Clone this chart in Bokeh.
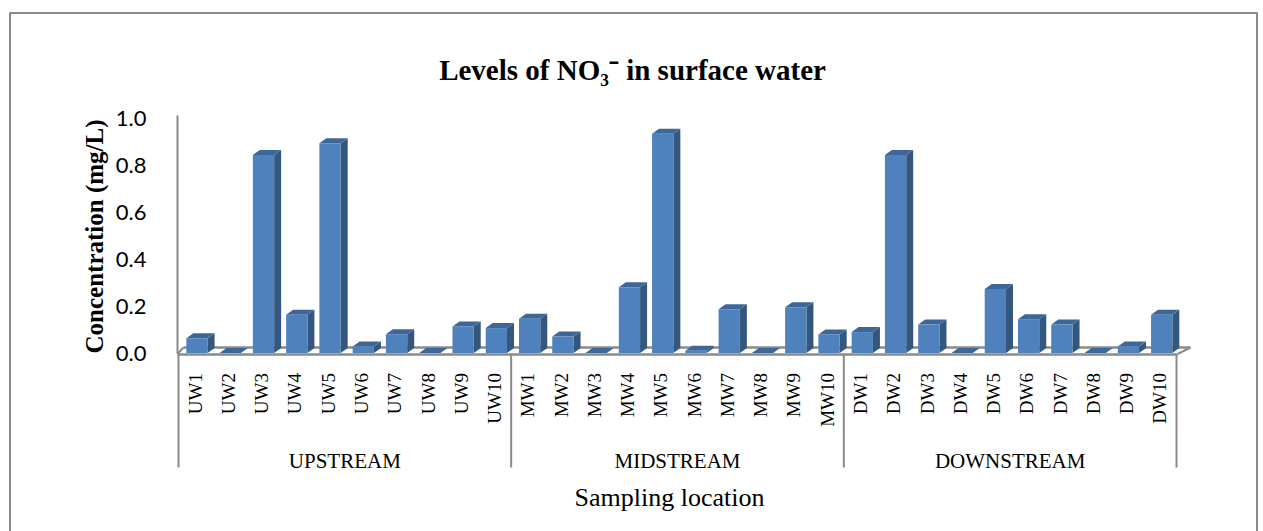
import math

from bokeh.plotting import figure
from bokeh.models import (Range1d, LinearAxis, FixedTicker, NumeralTickFormatter, Label)
from bokeh.embed import file_html
from bokeh.resources import INLINE

# ---- data -------------------------------------------------------------
groups = ["UPSTREAM", "MIDSTREAM", "DOWNSTREAM"]
upstream_sites = ["UW1", "UW2", "UW3", "UW4", "UW5", "UW6", "UW7", "UW8", "UW9", "UW10"]
midstream_sites = ["MW1", "MW2", "MW3", "MW4", "MW5", "MW6", "MW7", "MW8", "MW9", "MW10"]
downstream_sites = ["DW1", "DW2", "DW3", "DW4", "DW5", "DW6", "DW7", "DW8", "DW9", "DW10"]

upstream_no3 = [0.063, 0.0, 0.843, 0.163, 0.893, 0.028, 0.080, 0.0, 0.113, 0.106]
midstream_no3 = [0.146, 0.070, 0.0, 0.280, 0.933, 0.010, 0.186, 0.0, 0.195, 0.079]
downstream_no3 = [0.089, 0.843, 0.121, 0.0, 0.272, 0.144, 0.121, 0.0, 0.028, 0.163]

y_ticks = [0.0, 0.2, 0.4, 0.6, 0.8, 1.0]

sites = upstream_sites + midstream_sites + downstream_sites
values = upstream_no3 + midstream_no3 + downstream_no3

# ---- canvas geometry (pixels) ------------------------------------------
W, H = 1263, 531
X0 = 178.0                    # left edge of the category axis
CAT = (1176.0 - X0) / 30      # width of one category
Y0 = 352.5                    # value 0
UNIT = 235.0                  # pixels per 1 mg/L


def xd(px):
    return (px - X0) / CAT


def yd(py):
    return (Y0 - py) / UNIT


p = figure(width=W, height=H, output_backend="svg", toolbar_location=None,
           x_range=Range1d(xd(0), xd(W)), y_range=Range1d(yd(H), yd(0)),
           x_axis_type=None, y_axis_type=None, min_border=0)
p.outline_line_color = None
p.background_fill_color = "white"
p.border_fill_color = "white"

GRAY = "#8a8a8a"

# chart border
p.line([xd(9.5), xd(9.5), xd(1256.5), xd(1256.5)],
       [yd(560), yd(12.5), yd(12.5), yd(560)], line_color=GRAY, line_width=2)

# side wall edge and floor
p.line([xd(177), xd(177)], [yd(115), yd(353)], line_color=GRAY, line_width=2)
p.line([xd(183), xd(1190)], [yd(347), yd(347)], line_color=GRAY, line_width=2.5)
p.line([xd(177), xd(183)], [yd(353.5), yd(347)], line_color=GRAY, line_width=2)
p.line([xd(1177), xd(1190)], [yd(353.5), yd(347)], line_color=GRAY, line_width=2)
p.line([xd(177), xd(1177)], [yd(354), yd(354)], line_color=GRAY, line_width=2.5)

# category group boxes
for k in range(4):
    gx = k * 10
    p.line([gx, gx], [yd(354), yd(467)], line_color=GRAY, line_width=2)

# ---- 3-D columns -------------------------------------------------------
FRONT, SIDE, TOP = "#4f81bd", "#34577f", "#3d6798"
dx = 7.0 / CAT
dy = 5.0 / UNIT
lefts = [i + 0.235 for i in range(len(values))]
rights = [i + 0.875 for i in range(len(values))]

side_xs = [[r, r + dx, r + dx, r] for r in rights]
side_ys = [[0, dy, v + dy, v] for v in values]
top_xs = [[l, r, r + dx, l + dx] for l, r in zip(lefts, rights)]
top_ys = [[v, v, v + dy, v + dy] for v in values]

p.patches(side_xs, side_ys, fill_color=SIDE, line_color=None)
p.patches(top_xs, top_ys, fill_color=TOP, line_color=None)
p.quad(left=lefts, right=rights, bottom=0, top=values, fill_color=FRONT, line_color=None)

# ---- axes --------------------------------------------------------------
yaxis = LinearAxis(fixed_location=xd(177), ticker=FixedTicker(ticks=y_ticks),
                   formatter=NumeralTickFormatter(format="0.0"))
yaxis.axis_line_color = None
yaxis.major_tick_line_color = None
yaxis.minor_tick_line_color = None
yaxis.major_label_standoff = 25
yaxis.major_label_text_font = "Lato"
yaxis.major_label_text_font_size = "22px"
yaxis.major_label_text_color = "black"
p.add_layout(yaxis, "left")

tick_pos = [i + 0.5 for i in range(len(sites))]
xaxis = LinearAxis(fixed_location=0, ticker=FixedTicker(ticks=tick_pos),
                   major_label_overrides={t: s for t, s in zip(tick_pos, sites)})
xaxis.axis_line_color = None
xaxis.major_tick_line_color = None
xaxis.minor_tick_line_color = None
xaxis.major_label_orientation = math.pi / 2
xaxis.major_label_standoff = 14
xaxis.major_label_text_font = "Liberation Serif"
xaxis.major_label_text_font_size = "19px"
xaxis.major_label_text_color = "black"
p.add_layout(xaxis, "below")

# group names under each block of ten sites
for k, g in enumerate(groups):
    p.add_layout(Label(x=k * 10 + 5, y=yd(460), text=g, text_align="center",
                       text_baseline="alphabetic", text_font="Liberation Serif",
                       text_font_size="21px", text_color="black"))

# axis titles and chart title
p.add_layout(Label(x=xd(669), y=yd(497), text="Sampling location", text_align="center",
                   text_baseline="alphabetic", text_font="Liberation Serif",
                   text_font_size="26px", text_color="black"))
p.add_layout(Label(x=xd(94), y=yd(236), text="Concentration (mg/L)", angle=math.pi / 2,
                   text_align="center", text_baseline="middle", text_font="Liberation Serif",
                   text_font_size="25px", text_font_style="bold", text_color="black"))
p.add_layout(Label(x=xd(632), y=yd(69), text="Levels of NO\u2083\u207b in surface water",
                   text_align="center", text_baseline="alphabetic", text_font="Liberation Serif",
                   text_font_size="29px", text_font_style="bold", text_color="black"))

open("out.html", "w").write(file_html(p, INLINE))
